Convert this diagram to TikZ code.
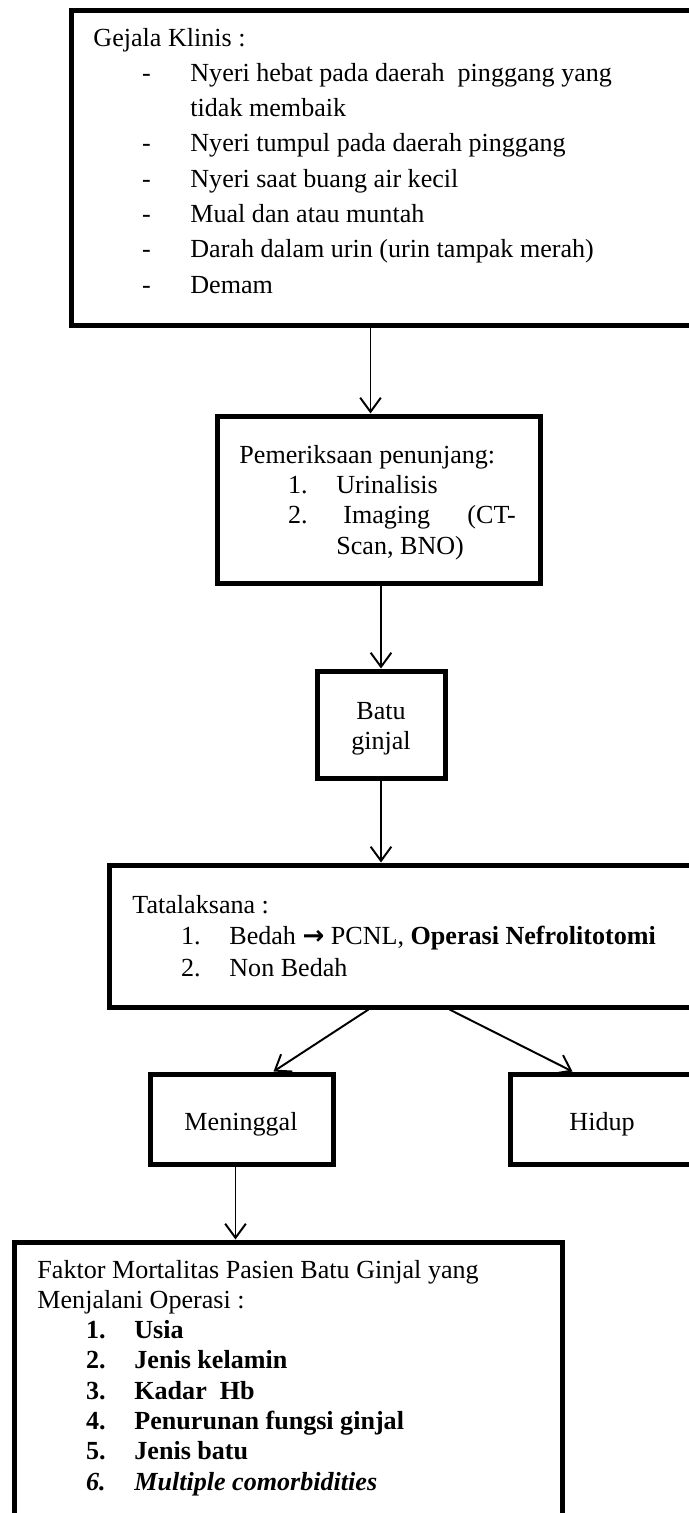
\documentclass[tikz,border=0pt]{standalone}
\usepackage{fontspec}
\setmainfont{Liberation Serif}
\newfontfamily\symfont{DejaVu Sans}
\usetikzlibrary{arrows.meta,fit,calc}
\newcommand{\lsitem}[2]{\hspace*{22.4pt}\makebox[22.2pt][l]{#1}#2}

\begin{document}
\begin{tikzpicture}[x=0.46pt, y=-0.46pt, >={Straight Barb[length=6.5pt,width=9.5pt]},
    font=\fontsize{12pt}{13.8pt}\selectfont,
    box/.style={draw, line width=2.3pt, inner sep=0pt},
    txt/.style={inner sep=0pt, anchor=base west},
    arr/.style={->, line width=0.9pt}]
    \useasboundingbox (0,0) rectangle (689,1513);
    \clip (0,0) rectangle (689,1513);

    % Boxes
    \node (gejala) [box, fit={(71,10) (720,325)}] {};
    \node (periksa) [box, fit={(217,416) (540,583)}] {};
    \node (batu) [box, fit={(317,671) (445,778)}] {};
    \node (tata) [box, fit={(109,865) (720,1007)}] {};
    \node (mati) [box, fit={(150,1074) (333,1164)}] {};
    \node (hidup) [box, fit={(510,1074) (720,1164)}] {};
    \node (faktor) [box, fit={(14,1242) (562,1540)}] {};

    % Texts
    \node (gejalatxt) [txt, font=\fontsize{12pt}{16.24pt}\selectfont] at (93,46) {\begin{tabular}[t]{@{}l@{}}
        Gejala Klinis :\\
        \lsitem{-}{Nyeri hebat pada daerah~ pinggang yang}\\
        \lsitem{}{tidak membaik}\\
        \lsitem{-}{Nyeri tumpul pada daerah pinggang}\\
        \lsitem{-}{Nyeri saat buang air kecil}\\
        \lsitem{-}{Mual dan atau muntah}\\
        \lsitem{-}{Darah dalam urin (urin tampak merah)}\\
        \lsitem{-}{Demam}
    \end{tabular}};
    \node (periksatxt) [txt, font=\fontsize{12pt}{14pt}\selectfont] at (239,463) {\begin{tabular}[t]{@{}l@{}}
        Pemeriksaan penunjang:\\
        \lsitem{1.}{Urinalisis}\\
        \lsitem{2.}{\makebox[82.5pt][l]{\hspace{3.2pt}Imaging\hfill(CT-}}\\
        \lsitem{}{Scan, BNO)}
    \end{tabular}};
    \node (batutxt) [inner sep=0pt, anchor=base] at (381,719) {\begin{tabular}[t]{@{}c@{}}
        Batu\\ ginjal
    \end{tabular}};
    \node (tatatxt) [txt, font=\fontsize{12pt}{14.7pt}\selectfont] at (132,913) {\begin{tabular}[t]{@{}l@{}}
        Tatalaksana :\\
        \lsitem{1.}{Bedah {\symfont\bfseries →} PCNL, \textbf{Operasi Nefrolitotomi}}\\
        \lsitem{2.}{Non Bedah}
    \end{tabular}};
    \node (matitxt) [inner sep=0pt, anchor=base] at (241,1130) {Meninggal};
    \node (hiduptxt) [txt] at (569,1130) {Hidup};
    \node (faktortxt) [txt, font=\fontsize{12pt}{13.95pt}\selectfont] at (37,1278) {\begin{tabular}[t]{@{}l@{}}
        Faktor Mortalitas Pasien Batu Ginjal yang\\
        Menjalani Operasi :\\
        \lsitem{\textbf{1.}}{\textbf{Usia}}\\
        \lsitem{\textbf{2.}}{\textbf{Jenis kelamin}}\\
        \lsitem{\textbf{3.}}{\textbf{Kadar~ Hb}}\\
        \lsitem{\textbf{4.}}{\textbf{Penurunan fungsi ginjal}}\\
        \lsitem{\textbf{5.}}{\textbf{Jenis batu}}\\
        \lsitem{\textbf{\textit{6.}}}{\textbf{\textit{Multiple comorbidities}}}
    \end{tabular}};

    % Edges
    \draw[arr] ($(gejala.south west)+(302,0)$) -- ($(periksa.north west)+(156,0)$);
    \draw[arr] (batu.north |- periksa.south) -- (batu.north);
    \draw[arr] (batu.south) -- (batu.south |- tata.north);
    \draw[arr] ($(tata.south west)+(262,0)$) -- ($(mati.north west)+(126,0)$);
    \draw[arr] ($(tata.south west)+(343,0)$) -- ($(hidup.north west)+(65,0)$);
    \draw[arr] ($(mati.south west)+(88,0)$) -- ($(faktor.north west)+(224,0)$);
\end{tikzpicture}
\end{document}
